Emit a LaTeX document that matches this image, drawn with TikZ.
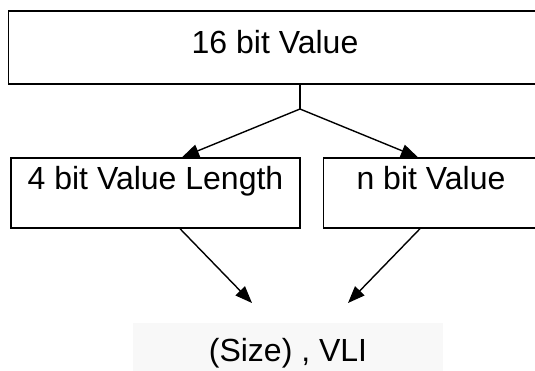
\documentclass[tikz,border=0pt]{standalone}
\usepackage{fontspec}
\setmainfont{Liberation Sans}
\usetikzlibrary{arrows.meta}
\definecolor{lblbg}{HTML}{F8F8F8}
\begin{document}
\begin{tikzpicture}[x=1pt,y=1pt,
  box/.style={draw=black, line width=1.4pt, fill=white, rectangle, inner sep=0pt},
  txt/.style={font=\fontsize{32}{38}\selectfont, anchor=base, inner sep=0pt},
  conn/.style={line width=1.4pt, -{Triangle[length=17pt,width=13pt]}}]
\useasboundingbox (0,0) rectangle (535,370);
\clip (0,0) rectangle (535,370);
% boxes
\node[box, minimum width=532.5, minimum height=73] (top) at (274.75,322.5) {};
\node[box, minimum width=289, minimum height=70] (lb) at (155.5,177) {};
\node[box, minimum width=215, minimum height=70] (rb) at (431,177) {};
\node[fill=lblbg, minimum width=310, minimum height=50, inner sep=0pt] (bot) at (288,22) {};
% texts
\node[txt] (toptxt) at (275,316.4) {16 bit Value};
\node[txt] (lbtxt) at (155.5,180.6) {4 bit Value Length};
\node[txt] (rbtxt) at (431,180.6) {n bit Value};
\node[txt] (bottxt) at (288,8.3) {(Size) , VLI};
% connectors
\coordinate (j) at (300,261);
\coordinate (t1) at (252,67);
\coordinate (t2) at (348,67);
\draw[line width=1.4pt] (top.south -| j) -- (j);
\draw[conn] (j) -- (lb.north -| 182,0);
\draw[conn] (j) -- (rb.north -| 418,0);
\draw[conn] (lb.south -| 180,0) -- (t1);
\draw[conn] (rb.south -| 420,0) -- (t2);
\end{tikzpicture}
\end{document}
